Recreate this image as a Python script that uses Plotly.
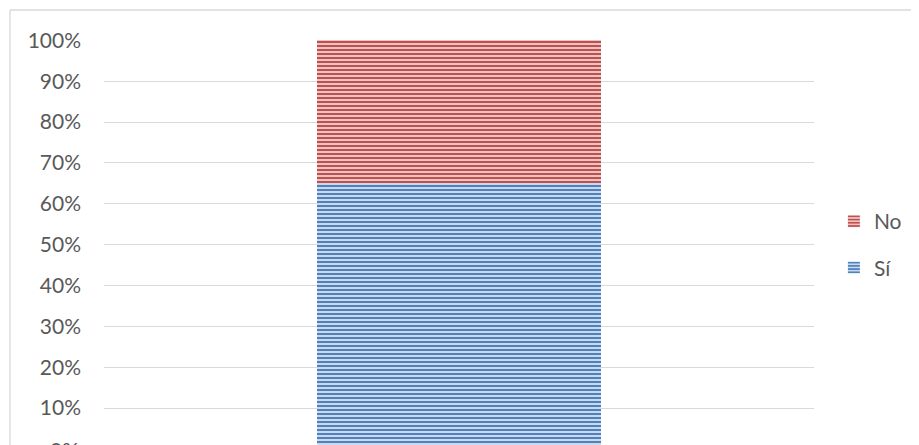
import plotly.graph_objects as go

categories = [""]
si_values = [0.65]
no_values = [0.35]
tick_vals = [0.1, 0.2, 0.3, 0.4, 0.5, 0.6, 0.7, 0.8, 0.9, 1.0]
tick_text = ["10%", "20%", "30%", "40%", "50%", "60%", "70%", "80%", "90%", "100%"]

fig = go.Figure()
fig.add_trace(go.Bar(
    x=categories, y=si_values, name="Sí", legendgroup="si", legendrank=2,
    marker=dict(color="#d8e3f3", line=dict(width=0),
                pattern=dict(shape="-", size=4, solidity=0.55, fgcolor="#4f81bd",
                             bgcolor="#d8e3f3", fillmode="replace")),
))
fig.add_trace(go.Bar(
    x=categories, y=no_values, name="No", legendgroup="no", legendrank=1,
    marker=dict(color="#f1d1d0", line=dict(width=0),
                pattern=dict(shape="-", size=4, solidity=0.55, fgcolor="#c0504d",
                             bgcolor="#f1d1d0", fillmode="replace")),
))

W, H = 911, 437
L, T = 96, 32
PW, PH = 710, 405
B = H - T - PH

font_family = "Lato, Open Sans, sans-serif"
fig.update_layout(
    width=W, height=H,
    barmode="stack", bargap=0.6,
    paper_bgcolor="white", plot_bgcolor="white",
    margin=dict(l=L, r=W - L - PW, t=T, b=B, pad=0),
    font=dict(family=font_family, size=21, color="#595959"),
    showlegend=True,
    legend=dict(x=1.028, xanchor="left", y=0.495, yanchor="middle",
                traceorder="grouped", tracegroupgap=16,
                font=dict(size=21, color="#595959"), bgcolor="rgba(0,0,0,0)"),
    xaxis=dict(showgrid=False, showline=False, showticklabels=False, zeroline=False,
               range=[-0.5, 0.5]),
    yaxis=dict(range=[0.0098, 1.001], tickvals=tick_vals, ticktext=tick_text,
               showgrid=True, gridcolor="#d9d9d9", gridwidth=1.3,
               zeroline=False, showline=False, ticks="", ticklabelstandoff=22,
               tickfont=dict(size=21, color="#595959")),
    shapes=[
        dict(type="line", xref="paper", yref="paper",
             x0=(2 - L) / PW, x1=(W - L + 5) / PW,
             y0=(H - B - 2) / PH, y1=(H - B - 2) / PH,
             line=dict(color="#d9d9d9", width=1.3)),
        dict(type="line", xref="paper", yref="paper",
             x0=(2 - L) / PW, x1=(2 - L) / PW,
             y0=(H - B - 2) / PH, y1=-2 / PH,
             line=dict(color="#d9d9d9", width=1.3)),
    ],
    annotations=[
        dict(text="0%", xref="paper", yref="paper", x=-23 / PW, xanchor="right",
             y=-4 / PH, yanchor="middle", showarrow=False,
             font=dict(size=21, color="#595959")),
    ],
)

fig.write_html("out.html")
